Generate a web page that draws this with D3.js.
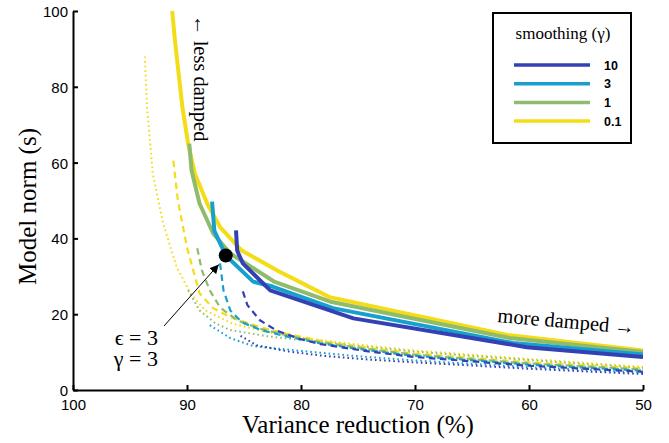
<!DOCTYPE html>
<html>
<head>
<meta charset="utf-8">
<script src="https://cdn.jsdelivr.net/npm/d3@7"></script>
<style>
  body { margin: 0; background: #fff; }
  svg text { fill: #000; }
</style>
</head>
<body>
<div id="chart"></div>
<script>
// smoothing values (legend order) and colours
var gammas = ["10", "3", "1", "0.1"]
var colors = ["#3441b4", "#17a0cd", "#8fbb6c", "#f4dc17"]

// solid lines (epsilon = 3): [variance reduction %, model norm s]
var solid10 = [[85.7,42.1],[85.6,36.8],[85.1,33.4],[82.7,26.3],[75.4,18.9],[60.2,11.3],[50,8.7]]
var solid3 = [[87.8,49.7],[87.6,42],[86.6,35.5],[84.2,28.6],[82.5,27.3],[77.2,21.6],[61.4,12.4],[50,9.4]]
var solid1 = [[89.8,65],[89.6,57.9],[88.9,49.2],[87.7,41.3],[86.2,36],[82.3,28.5],[77.3,23.2],[61.7,13.7],[50,10]]
var solid01 = [[91.3,100],[91.05,92],[90.4,74.5],[89.9,65],[89.3,57],[88.2,49],[87.1,43],[85.2,36.8],[82.0,31.4],[77.5,24.5],[61.9,14.5],[50,10.4]]

// dashed lines
var dash10 = [[85.1,26],[84.7,22.4],[83.6,18.4],[82.1,15.6],[80,13.4],[78.3,12.1],[73.9,10.1],[70,8.7],[60,6.4],[50,4.8]]
var dash3 = [[87.1,33.4],[86.8,26.3],[86.2,21],[85.2,17.9],[83.5,15.8],[81.2,14.1],[78.3,12.3],[73.9,10.4],[70,9],[60,6.7],[50,5.1]]
var dash1 = [[89.1,37.4],[88.7,31.6],[88,26.3],[87.1,21.8],[85.6,18.4],[83.5,16.1],[81.2,14.4],[78.3,12.6],[73.9,10.7],[70,9.3],[60,7],[50,5.4]]
var dash01 = [[91.2,60.5],[90.8,50],[90,37.6],[88.9,25.5],[87.7,21.6],[86.2,19.2],[83.5,16.5],[81.2,14.8],[78.3,13],[73.9,11],[70,9.6],[60,7.3],[50,5.7]]

// dotted lines
var dot10 = [[85.3,14.3],[83.9,11.8],[81.2,10.2],[78,9],[73.9,8],[70,7.3],[60,5.6],[50,4.2]]
var dot3 = [[88,17.1],[86.2,13.7],[84.2,11.6],[81,10.6],[75,8.9],[70,7.8],[60,6],[50,4.6]]
var dot1 = [[89.9,26.3],[88.9,21],[87.5,17.6],[86.2,15.8],[83,14.2],[80,13.2],[75,11.6],[70,10.1],[60,7.9],[50,5.8]]
var dot01 = [[93.7,88],[93.5,74.5],[93,57],[92.1,44],[90.9,32.4],[89.7,25.5],[88.4,21],[86,17.5],[83,15.3],[80,13.8],[75,12],[70,10.4],[60,8.2],[50,6.1]]

// chosen point
var chosen = [86.6, 35.5]

var xTicks = [100, 90, 80, 70, 60, 50]
var yTicks = [0, 20, 40, 60, 80, 100]

var width = 669, height = 443
var margin = {left: 73, right: 26, top: 11, bottom: 53}
var serif = "'Liberation Serif'"
var sans = "'Liberation Sans', Arial, sans-serif"

var svg = d3.select("#chart").append("svg")
  .attr("width", width)
  .attr("height", height)

var x = d3.scaleLinear().domain([100, 50]).range([margin.left, width - margin.right])
var y = d3.scaleLinear().domain([0, 100]).range([height - margin.bottom, margin.top])

var line = d3.line().x(function(d) { return x(d[0]) }).y(function(d) { return y(d[1]) })

var styles = {
  solid: {w: 4, dash: null},
  dashed: {w: 2.2, dash: "6.5,4.5"},
  dotted: {w: 2, dash: "1.6,3"}
}

// draw dotted, then dashed, then solid; within each, 0.1 -> 10
var groups = [
  ["dotted", [dot01, dot1, dot3, dot10]],
  ["dashed", [dash01, dash1, dash3, dash10]],
  ["solid", [solid01, solid1, solid3, solid10]]
]
var colorsRev = colors.slice().reverse()

groups.forEach(function(g) {
  var st = styles[g[0]]
  svg.append("g").selectAll("path")
    .data(g[1])
    .enter()
    .append("path")
      .attr("d", line)
      .attr("fill", "none")
      .attr("stroke", function(d, i) { return colorsRev[i] })
      .attr("stroke-width", st.w)
      .attr("stroke-dasharray", st.dash)
      .attr("stroke-linejoin", "round")
})

// axes
var xAxis = d3.axisBottom(x).tickValues(xTicks).tickSizeInner(-5).tickSizeOuter(0).tickPadding(9)
var yAxis = d3.axisLeft(y).tickValues(yTicks).tickSizeInner(-5).tickSizeOuter(0).tickPadding(5)

var gx = svg.append("g")
  .attr("transform", "translate(0," + y(0) + ")")
  .call(xAxis)
var gy = svg.append("g")
  .attr("transform", "translate(" + x(100) + ",0)")
  .call(yAxis)

;[gx, gy].forEach(function(g) {
  g.select(".domain").attr("stroke", "#000").attr("stroke-width", 2)
  g.selectAll(".tick line").attr("stroke", "#000").attr("stroke-width", 2)
  g.selectAll(".tick text")
    .attr("font-family", sans)
    .attr("font-size", 15)
    .attr("fill", "#000")
})
gy.selectAll(".tick text").attr("dy", "0.36em")

// axis titles
svg.append("text")
  .attr("x", (x(100) + x(50)) / 2)
  .attr("y", 433)
  .attr("text-anchor", "middle")
  .attr("font-family", serif)
  .attr("font-size", 25)
  .text("Variance reduction (%)")

svg.append("text")
  .attr("transform", "translate(36," + (y(50) + 6) + ") rotate(-90)")
  .attr("text-anchor", "middle")
  .attr("font-family", serif)
  .attr("font-size", 25)
  .text("Model norm (s)")

// annotations
svg.append("text")
  .attr("transform", "translate(194,15) rotate(90)")
  .attr("font-family", serif)
  .attr("font-size", 20.5)
  .text("\u2190 less damped")

svg.append("text")
  .attr("transform", "translate(497,322) rotate(5)")
  .attr("font-family", serif)
  .attr("font-size", 20.5)
  .text("more damped \u2192")

// chosen point + arrow
svg.append("defs").append("marker")
  .attr("id", "arrowhead")
  .attr("viewBox", "0 0 10 10")
  .attr("refX", 10).attr("refY", 5)
  .attr("markerWidth", 9).attr("markerHeight", 9)
  .attr("markerUnits", "userSpaceOnUse")
  .attr("orient", "auto")
  .append("path")
    .attr("d", "M0,0L10,5L0,10z")
    .attr("fill", "#000")

svg.append("line")
  .attr("x1", 164).attr("y1", 326)
  .attr("x2", x(chosen[0]) - 7).attr("y2", y(chosen[1]) + 9)
  .attr("stroke", "#000")
  .attr("stroke-width", 1)
  .attr("marker-end", "url(#arrowhead)")

svg.append("circle")
  .attr("cx", x(chosen[0]))
  .attr("cy", y(chosen[1]))
  .attr("r", 7)
  .attr("fill", "#000")

svg.append("text")
  .attr("x", 158).attr("y", 345)
  .attr("text-anchor", "end")
  .attr("font-family", serif)
  .attr("font-size", 22)
  .text("\u03f5 = 3")

svg.append("text")
  .attr("x", 158).attr("y", 366)
  .attr("text-anchor", "end")
  .attr("font-family", serif)
  .attr("font-size", 22)
  .text("\u03b3 = 3")

// legend
var legend = svg.append("g")
legend.append("rect")
  .attr("x", 493).attr("y", 13)
  .attr("width", 138).attr("height", 130)
  .attr("fill", "#fff")
  .attr("stroke", "#000")
  .attr("stroke-width", 2)

legend.append("text")
  .attr("x", 563).attr("y", 39)
  .attr("text-anchor", "middle")
  .attr("font-family", serif)
  .attr("font-size", 17)
  .text("smoothing (\u03b3)")

var rows = legend.selectAll(".row")
  .data(gammas)
  .enter()
  .append("g")
    .attr("transform", function(d, i) { return "translate(0," + (65 + i * 18.7) + ")" })

rows.append("line")
  .attr("x1", 514).attr("x2", 590)
  .attr("stroke", function(d, i) { return colors[i] })
  .attr("stroke-width", 3.5)

rows.append("text")
  .attr("x", 604).attr("y", 4.5)
  .attr("font-family", sans)
  .attr("font-weight", "bold")
  .attr("font-size", 12.5)
  .text(function(d) { return d })
</script>
</body>
</html>
